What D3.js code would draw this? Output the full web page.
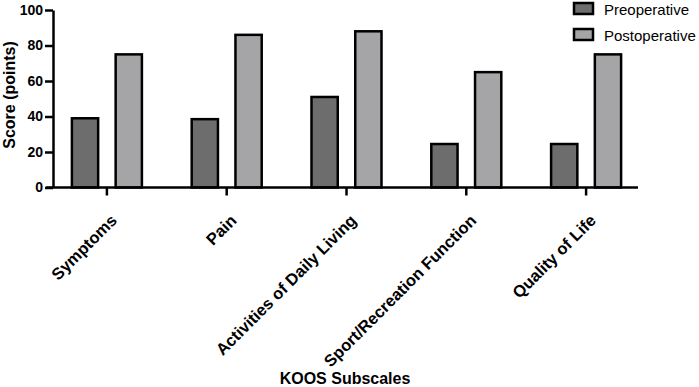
<!DOCTYPE html>
<html>
<head>
<meta charset="utf-8">
<script src="https://cdn.jsdelivr.net/npm/d3@7"></script>
<style>
  body { margin: 0; background: #fff; }
  text { font-family: "Liberation Sans", Arial, sans-serif; }
</style>
</head>
<body>
<svg id="chart"></svg>
<script>
const categories = ['Symptoms', 'Pain', 'Activities of Daily Living', 'Sport/Recreation Function', 'Quality of Life'];
const series = ['Preoperative', 'Postoperative'];
const preValues = [39, 38.5, 51, 24.5, 24.5];
const postValues = [75, 86, 88, 65, 75];
const yTicks = [0, 20, 40, 60, 80, 100];

const width = 699;
const height = 387;
const colors = { Preoperative: '#6d6d6d', Postoperative: '#a5a5a8' };

const svg = d3.select('#chart')
    .attr('width', width)
    .attr('height', height);

const x0 = d3.scaleBand()
    .domain(categories)
    .range([47, 646]);

const x1 = d3.scaleBand()
    .domain(series)
    .range([-35, 35])
    .paddingInner(0.4);

const y = d3.scaleLinear()
    .domain([0, 100])
    .range([187.5, 10]);

const data = categories.map((c, i) => ({
    category: c,
    values: [
        { key: 'Preoperative', value: preValues[i] },
        { key: 'Postoperative', value: postValues[i] }
    ]
}));

// bars
const groups = svg.selectAll('.group')
    .data(data)
    .enter().append('g')
    .attr('class', 'group')
    .attr('transform', d => `translate(${x0(d.category) + x0.bandwidth() / 2},0)`);

groups.selectAll('rect')
    .data(d => d.values)
    .enter().append('rect')
    .attr('x', d => x1(d.key))
    .attr('y', d => y(d.value))
    .attr('width', x1.bandwidth())
    .attr('height', d => y(0) - y(d.value))
    .attr('fill', d => colors[d.key])
    .attr('stroke', '#000')
    .attr('stroke-width', 2.5);

// y axis
const yAxis = svg.append('g')
    .attr('transform', 'translate(53,0)')
    .call(d3.axisLeft(y).tickValues(yTicks).tickSize(8).tickSizeOuter(0).tickPadding(2));
yAxis.select('.domain').attr('stroke-width', 2.5);
yAxis.selectAll('.tick line').attr('stroke-width', 2.5);
yAxis.selectAll('.tick text')
    .style('font-size', '14px')
    .style('font-weight', 'bold')
    .attr('fill', '#000');

// x axis
const xAxis = svg.append('g')
    .attr('transform', `translate(0,${y(0)})`)
    .call(d3.axisBottom(x0).tickSize(8).tickSizeOuter(0));
xAxis.select('.domain').remove();
xAxis.append('line')
    .attr('x1', 46)
    .attr('x2', 638)
    .attr('stroke', '#000')
    .attr('stroke-width', 2.5);
xAxis.selectAll('.tick line').attr('stroke-width', 2.5);
xAxis.selectAll('.tick text')
    .style('font-size', '16.5px')
    .style('font-weight', 'bold')
    .attr('fill', '#000')
    .attr('text-anchor', 'end')
    .attr('dy', null)
    .attr('y', null)
    .attr('transform', 'translate(11,34) rotate(-45)');

// axis titles
svg.append('text')
    .attr('transform', 'translate(15,95) rotate(-90)')
    .attr('text-anchor', 'middle')
    .style('font-size', '16px')
    .style('font-weight', 'bold')
    .text('Score (points)');

svg.append('text')
    .attr('x', 345)
    .attr('y', 384)
    .attr('text-anchor', 'middle')
    .style('font-size', '16px')
    .style('font-weight', 'bold')
    .text('KOOS Subscales');

// legend
const legend = svg.selectAll('.legend')
    .data(series)
    .enter().append('g')
    .attr('class', 'legend')
    .attr('transform', (d, i) => `translate(574,${3 + i * 26})`);

legend.append('rect')
    .attr('width', 19)
    .attr('height', 11)
    .attr('fill', d => colors[d])
    .attr('stroke', '#000')
    .attr('stroke-width', 2.5);

legend.append('text')
    .attr('x', 30)
    .attr('y', 12)
    .style('font-size', '15px')
    .text(d => d);
</script>
</body>
</html>
